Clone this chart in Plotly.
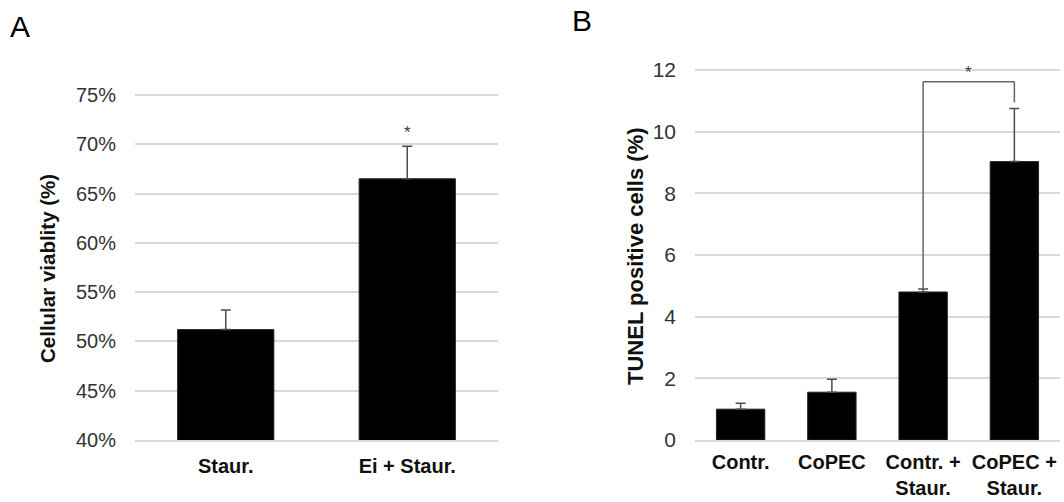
import plotly.graph_objects as go

# ---- Data ----
a_categories = ["Staur.", "Ei + Staur."]
a_values = [51.2, 66.5]
a_errors = [2.0, 3.3]

b_categories = ["Contr.", "CoPEC", "Contr. +<br>Staur.", "CoPEC +<br>Staur."]
b_values = [1.0, 1.55, 4.8, 9.03]
b_errors = [0.19, 0.42, 0.1, 1.72]

a_yticks = [40, 45, 50, 55, 60, 65, 70, 75]
b_yticks = [0, 2, 4, 6, 8, 10, 12]

W, H = 1064, 502
FONT = "Liberation Sans, Arial, sans-serif"
GRID = "#d9d9d9"
ERR = "#4d4d4d"
TICKC = "#333333"

def px_x(p):
    return p / W

def px_y(p):
    return 1 - p / H

# panel A geometry: 40% at y=440 px, 75% at y=95 px; range padded a little at top
a_lo, a_hi, a_pad = 40, 75, 0.3
a_ppu = (440 - 95) / (a_hi - a_lo)
a_top_px = 440 - (a_hi + a_pad - a_lo) * a_ppu
# panel B geometry: 0 at y=440 px, 12 at y=70 px
b_lo, b_hi, b_pad = 0, 12, 0.1
b_ppu = (440 - 70) / (b_hi - b_lo)
b_top_px = 440 - (b_hi + b_pad - b_lo) * b_ppu

fig = go.Figure()

fig.add_trace(go.Bar(
    x=a_categories, y=a_values, xaxis="x", yaxis="y",
    marker=dict(color="black", line=dict(color="#222222", width=1)),
    error_y=dict(type="data", symmetric=False, array=a_errors,
                 arrayminus=[0] * len(a_errors), color=ERR, thickness=1.5, width=5),
    showlegend=False,
))

fig.add_trace(go.Bar(
    x=b_categories, y=b_values, xaxis="x2", yaxis="y2",
    marker=dict(color="black", line=dict(color="#222222", width=1)),
    error_y=dict(type="data", symmetric=False, array=b_errors,
                 arrayminus=[0] * len(b_errors), color=ERR, thickness=1.5, width=5),
    showlegend=False,
))

fig.update_layout(
    width=W, height=H,
    margin=dict(l=0, r=0, t=0, b=0, pad=0, autoexpand=False),
    paper_bgcolor="white", plot_bgcolor="white",
    bargap=0.47,
    xaxis=dict(domain=[px_x(135), px_x(498)], anchor="y", automargin=False,
               showgrid=False, zeroline=False, showline=True, linecolor=GRID,
               linewidth=1.5, ticks="", ticklabelstandoff=7,
               tickfont=dict(family=FONT, size=20, color="#111111", weight="bold")),
    yaxis=dict(domain=[px_y(440), px_y(a_top_px)], anchor="x", automargin=False,
               range=[a_lo, a_hi + a_pad],
               tickvals=a_yticks, ticktext=[f"{v}%" for v in a_yticks],
               showgrid=True, gridcolor=GRID, gridwidth=1.5, zeroline=False,
               showline=False, ticks="", ticklabelstandoff=18,
               tickfont=dict(family=FONT, size=20, color=TICKC)),
    xaxis2=dict(domain=[px_x(695), px_x(1060)], anchor="y2", automargin=False,
                showgrid=False, zeroline=False, showline=True, linecolor=GRID,
                linewidth=1.5, ticks="", ticklabelstandoff=3,
                tickfont=dict(family=FONT, size=20, color="#111111", weight="bold")),
    yaxis2=dict(domain=[px_y(440), px_y(b_top_px)], anchor="x2", automargin=False,
                range=[b_lo, b_hi + b_pad],
                tickvals=b_yticks,
                showgrid=True, gridcolor=GRID, gridwidth=1.5, zeroline=False,
                showline=False, ticks="", ticklabelstandoff=18,
                tickfont=dict(family=FONT, size=21, color=TICKC)),
)

# significance bracket in panel B (between categories 3 and 4)
bracket_top = 11.62
bracket_right_end = 10.95
i1, i2 = 2, 3
line_style = dict(color="#666666", width=1.5)
fig.add_shape(type="line", xref="x2", yref="y2", x0=i1, x1=i1,
              y0=b_values[i1] + b_errors[i1], y1=bracket_top, line=line_style)
fig.add_shape(type="line", xref="x2", yref="y2", x0=i1, x1=i2,
              y0=bracket_top, y1=bracket_top, line=line_style)
fig.add_shape(type="line", xref="x2", yref="y2", x0=i2, x1=i2,
              y0=bracket_top, y1=bracket_right_end, line=line_style)

annotations = [
    dict(text="A", x=px_x(8), y=px_y(8), xref="paper", yref="paper",
         xanchor="left", yanchor="top", showarrow=False,
         font=dict(family=FONT, size=30, color="black")),
    dict(text="B", x=px_x(570), y=px_y(2), xref="paper", yref="paper",
         xanchor="left", yanchor="top", showarrow=False,
         font=dict(family=FONT, size=30, color="black")),
    dict(text="Cellular viablity (%)", textangle=-90, x=px_x(47), y=px_y(269),
         xref="paper", yref="paper", xanchor="center", yanchor="middle",
         showarrow=False, font=dict(family=FONT, size=20.5, color="#111111", weight="bold")),
    dict(text="TUNEL positive cells (%)", textangle=-90, x=px_x(635), y=px_y(256),
         xref="paper", yref="paper", xanchor="center", yanchor="middle",
         showarrow=False, font=dict(family=FONT, size=22, color="#111111", weight="bold")),
    dict(text="*", x=a_categories[1], y=a_values[1] + a_errors[1], xref="x", yref="y",
         yanchor="bottom", yshift=2, showarrow=False,
         font=dict(family=FONT, size=17, color="#404040")),
    dict(text="*", x=(i1 + i2) / 2, y=bracket_top, xref="x2", yref="y2",
         yanchor="bottom", yshift=-2, showarrow=False,
         font=dict(family=FONT, size=17, color="#404040")),
]
fig.update_layout(annotations=annotations)

post = (
    "var gd=document.getElementById('{plot_id}');"
    "var de=document.documentElement, bd=document.body;"
    "de.style.margin='0';de.style.padding='0';de.style.height='502px';de.style.overflow='hidden';"
    "bd.style.margin='0';bd.style.padding='0';bd.style.height='502px';bd.style.overflow='hidden';"
    "gd.style.display='block';"
    "if(gd.parentElement){gd.parentElement.style.height='502px';gd.parentElement.style.overflow='hidden';}"
)

fig.write_html("out.html", config={"displayModeBar": False}, post_script=post)
